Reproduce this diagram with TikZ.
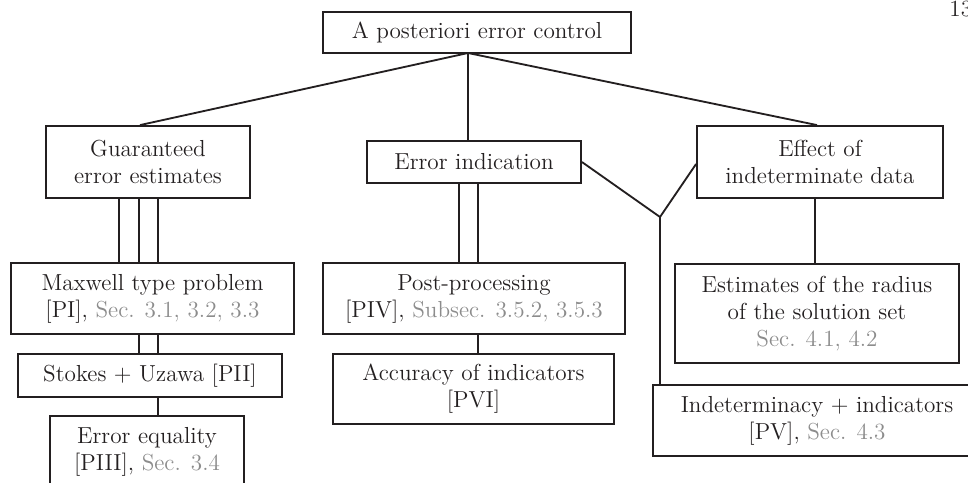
\documentclass[tikz,border=0pt]{standalone}
\usetikzlibrary{calc}

\definecolor{tinta}{HTML}{231F20}
\definecolor{gris}{HTML}{8C8C8C}
\newcommand{\pxu}{0.5177pt}
\newcommand{\secc}[1]{\textcolor{gris}{#1}}

\tikzset{
  caja/.style={draw=tinta, line width=0.95pt, text=tinta, align=center,
    inner sep=0pt, font=\fontsize{12}{14}\selectfont},
  tam/.style n args={2}{minimum width=#1*\pxu, minimum height=#2*\pxu},
  linea/.style={draw=tinta, line width=0.95pt}
}

\begin{document}
\begin{tikzpicture}[x=\pxu, y=-\pxu]

  \useasboundingbox (0,0) rectangle (968,482);

  % Número de página
  \node[anchor=base west, inner sep=0pt, text=tinta, font=\fontsize{12}{14}\selectfont] (pag) at (949,16) {13};

  % Caja principal
  \node[caja, tam={308}{41}] (top) at (477,32.5) {A posteriori error control};

  % Segundo nivel
  \node[caja, tam={204}{72}] (guar) at (148,162) {Guaranteed\\error estimates};
  \node[caja, tam={214}{42}] (errind) at (474,162) {Error indication};
  \node[caja, tam={246}{72}] (effect) at (820,162) {Effect of\\indeterminate data};

  % Columna izquierda
  \node[caja, tam={283}{71}] (maxw) at (152.5,298.5) {Maxwell type problem\\{[PI]}, \secc{Sec. 3.1, 3.2, 3.3}};
  \node[caja, tam={264}{43}] (stokes) at (150,375.5) {Stokes + Uzawa [PII]};
  \node[caja, tam={194}{72}] (erreq) at (147,452) {Error equality\\{[PIII]}, \secc{Sec. 3.4}};

  % Columna central
  \node[caja, tam={302}{71}] (post) at (474,298.5) {Post-processing\\{[PIV]}, \secc{Subsec. 3.5.2, 3.5.3}};
  \node[caja, tam={281}{70}] (accur) at (473.5,389) {Accuracy of indicators\\{[PVI]}};

  % Columna derecha
  \node[caja, tam={284}{99}] (estim) at (817,313.5) {Estimates of the radius\\of the solution set\\\secc{Sec. 4.1, 4.2}};
  \node[caja, tam={328}{71}] (indet) at (817,420.5) {Indeterminacy + indicators\\{[PV]}, \secc{Sec. 4.3}};

  % Líneas desde la caja principal
  \coordinate (jtop) at (468,53);
  \draw[linea] (jtop) -- ($(guar.north)+(-8,0)$);
  \draw[linea] (jtop) -- (jtop |- errind.north);
  \draw[linea] (jtop) -- ($(effect.north)+(-3,0)$);

  % Líneas triples y dobles
  \foreach \x in {119,139,158}
    \draw[linea] (\x,0 |- guar.south) -- (\x,0 |- maxw.north);
  \foreach \x in {139,158}
    \draw[linea] (\x,0 |- maxw.south) -- (\x,0 |- stokes.north);
  \draw[linea] (158,0 |- stokes.south) -- (158,0 |- erreq.north);
  \foreach \x in {459,478}
    \draw[linea] (\x,0 |- errind.south) -- (\x,0 |- post.north);
  \draw[linea] (478,0 |- post.south) -- (478,0 |- accur.north);

  % Unión en V
  \coordinate (vpunto) at (660,217);
  \draw[linea] (errind.east) -- (vpunto) -- ($(effect.west)+(0,2)$);
  \draw[linea] (vpunto) -- (vpunto |- indet.north);
  \draw[linea] (815,0 |- effect.south) -- (815,0 |- estim.north);

\end{tikzpicture}
\end{document}
